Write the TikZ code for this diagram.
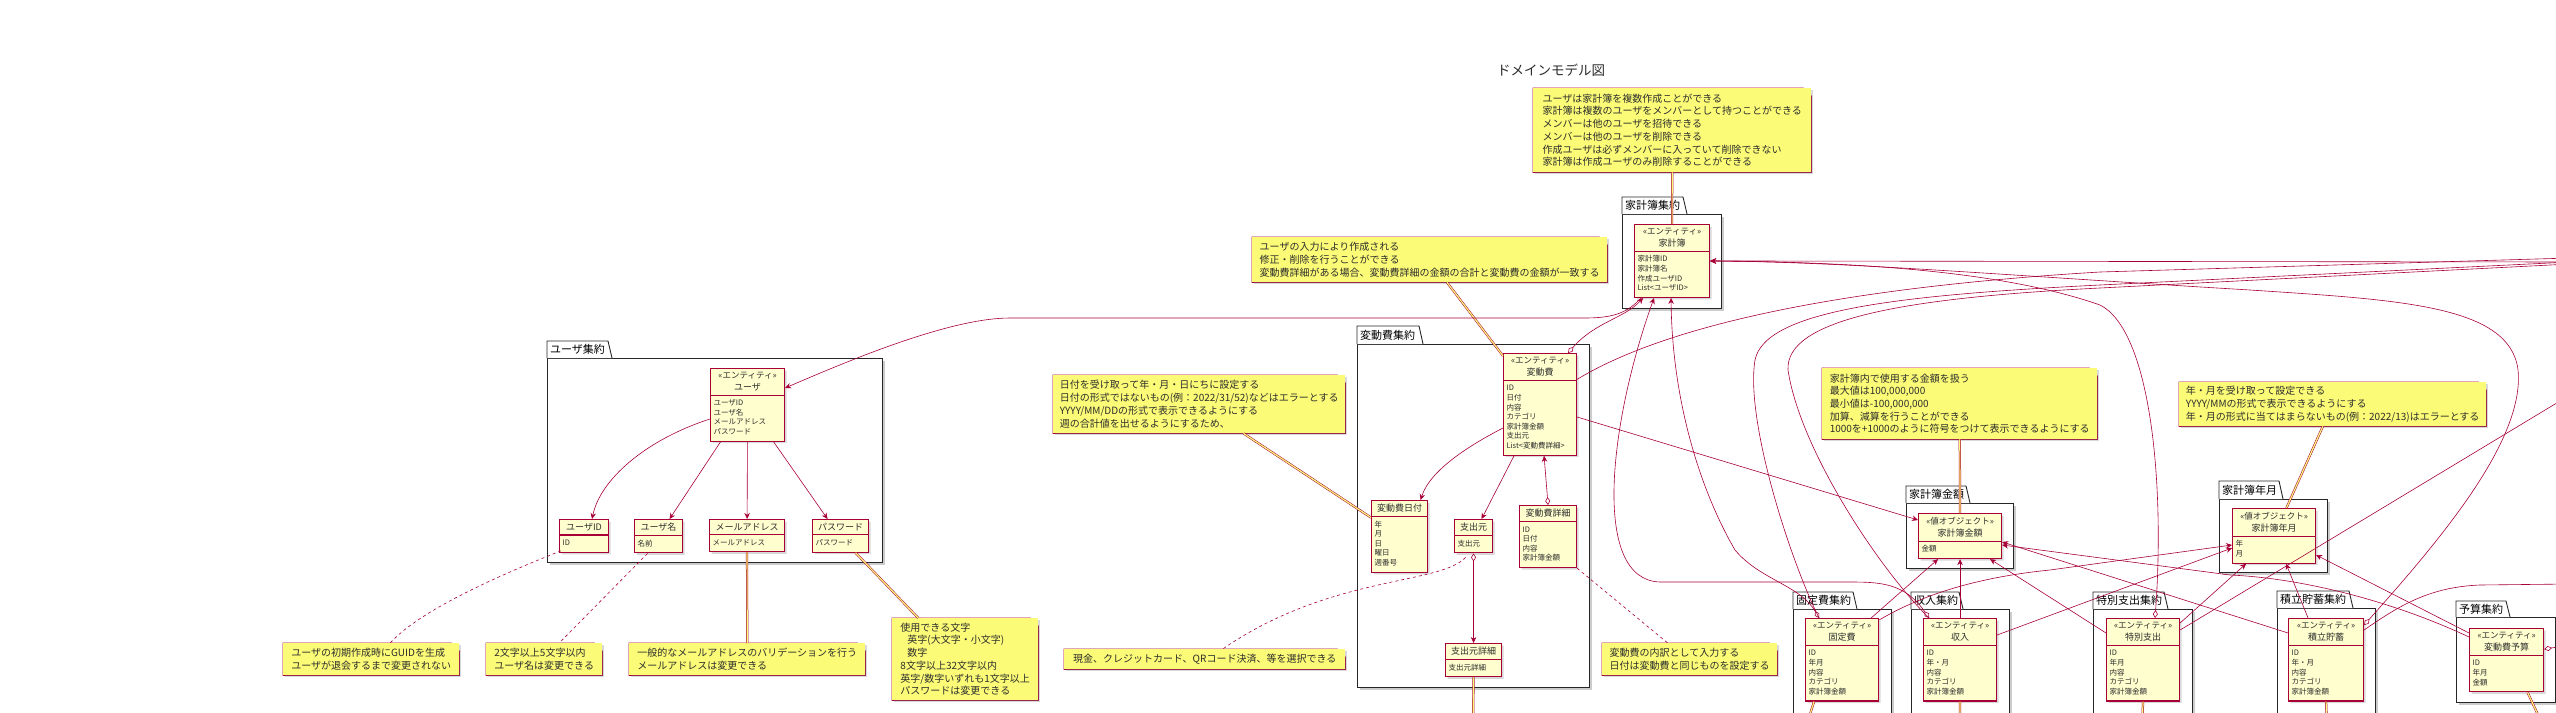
\documentclass[tikz,border=0pt]{standalone}
\usepackage{fontspec}
\setmainfont{Noto Sans CJK JP}
\usetikzlibrary{positioning, shapes.multipart, arrows.meta, shadows}
\definecolor{umlred}{RGB}{168,0,54}
\definecolor{entbg}{RGB}{254,254,206}
\definecolor{notebg}{RGB}{251,251,119}
\definecolor{inktext}{RGB}{45,45,45}
\newcommand{\entstereo}[1]{{\fontsize{8.5}{12}\selectfont «#1»}}
\newcommand{\fieldlist}[1]{{\fontsize{7.5}{9.6}\selectfont\begin{tabular}{@{}l@{}}#1\end{tabular}}}
\tikzstyle{ent}     = [rectangle split, rectangle split parts=2,
                       rectangle split part align={center,left},
                       draw=umlred, fill=entbg, line width=1.1pt, align=center,
                       anchor=north west, inner xsep=3pt, inner ysep=3.3pt,
                       text=inktext, font=\fontsize{9}{12}\selectfont,
                       drop shadow={shadow xshift=2pt, shadow yshift=-2pt, opacity=0.3}]
\tikzstyle{notebox} = [rectangle, fill=notebg, anchor=north west, align=left,
                       inner xsep=6pt, inner ysep=3pt, text=inktext,
                       font=\fontsize{10}{12.7}\selectfont,
                       drop shadow={shadow xshift=2pt, shadow yshift=-2pt, opacity=0.3},
                       append after command={\pgfextra{
                         \fill[white] ([xshift=-8pt]\tikzlastnode.north east) -- (\tikzlastnode.north east)
                           -- ([yshift=-8pt]\tikzlastnode.north east) -- cycle;
                         \draw[umlred, line width=0.8pt] (\tikzlastnode.north west)
                           -- ([xshift=-8pt]\tikzlastnode.north east) -- ([yshift=-8pt]\tikzlastnode.north east)
                           -- (\tikzlastnode.south east) -- (\tikzlastnode.south west) -- cycle;
                         \draw[umlred, line width=0.8pt] ([xshift=-8pt]\tikzlastnode.north east)
                           |- ([yshift=-8pt]\tikzlastnode.north east);}}]
\tikzstyle{pkg}     = [draw=black!85, line width=0.9pt, fill=white]
\tikzstyle{assoc}   = [draw=umlred, -{Stealth[length=6pt,width=5.5pt]}, line width=0.6pt]

\begin{document}
\begin{tikzpicture}[x=1pt, y=-1pt,
  aggr/.style={draw=umlred, {Diamond[fill=white,length=8pt,width=5pt]}-{Stealth[length=6pt,width=5.5pt]}, line width=0.6pt},
  conn/.style={draw=umlred, line width=0.6pt},
  notelink/.style={draw=umlred, line width=0.5pt, double=notebg, double distance=1.2pt},
  notedash/.style={draw=umlred, line width=0.6pt, dash pattern=on 3pt off 3pt},
  pkgname/.style={anchor=west, inner sep=1pt, font=\fontsize{11}{13}\selectfont},
  pkgshade/.style={drop shadow={shadow xshift=3pt, shadow yshift=-3pt, opacity=0.4}}
]
\fill[white] (0,0) rectangle (2556,712);
\useasboundingbox (0,0) rectangle (2556,712);

\node[font=\fontsize{13.5}{16}\selectfont, text=inktext] (title) at (1551,70) {ドメインモデル図};

% packages
\draw[pkg, pkgshade] (547,358) rectangle (882,562);
\draw[pkg] (547,358) |- (608,341) -- (612,358);
\node[pkgname] (pkgUser) at (549,349.5) {ユーザ集約};
\draw[pkg, pkgshade] (1622,214) rectangle (1721,308);
\draw[pkg] (1622,214) |- (1683,197) -- (1687,214);
\node[pkgname] (pkgKakeibo) at (1624,205.5) {家計簿集約};
\draw[pkg, pkgshade] (1357,344) rectangle (1589,687);
\draw[pkg] (1357,344) |- (1419,326) -- (1423,344);
\node[pkgname] (pkgHendo) at (1359,335) {変動費集約};
\draw[pkg, pkgshade] (1906,503) rectangle (2013,568);
\draw[pkg] (1906,503) |- (1966,486) -- (1970,503);
\node[pkgname] (pkgAmount) at (1908,494.5) {家計簿金額};
\draw[pkg, pkgshade] (2219,499) rectangle (2327,572);
\draw[pkg] (2219,499) |- (2279,481) -- (2283,499);
\node[pkgname] (pkgYm) at (2221,490) {家計簿年月};
\draw[pkg, pkgshade] (1793,609) rectangle (1891,730);
\draw[pkg] (1793,609) |- (1853,592) -- (1857,609);
\node[pkgname] (pkgFixed) at (1795,600.5) {固定費集約};
\draw[pkg, pkgshade] (1911,609) rectangle (2009,730);
\draw[pkg] (1911,609) |- (1959,592) -- (1963,609);
\node[pkgname] (pkgIncome) at (1913,600.5) {収入集約};
\draw[pkg, pkgshade] (2093,609) rectangle (2192,730);
\draw[pkg] (2093,609) |- (2164,592) -- (2168,609);
\node[pkgname] (pkgSpecial) at (2095,600.5) {特別支出集約};
\draw[pkg, pkgshade] (2277,608) rectangle (2375,730);
\draw[pkg] (2277,608) |- (2349,591) -- (2353,608);
\node[pkgname] (pkgSaving) at (2279,599.5) {積立貯蓄集約};
\draw[pkg, pkgshade] (2456,617) rectangle (2555,702);
\draw[pkg] (2456,617) |- (2506,601) -- (2510,617);
\node[pkgname] (pkgBudget) at (2458,609) {予算集約};

% entities
\node[ent, minimum width=75pt] (kakeibo) at (1634,224)
  {\entstereo{エンティティ}\\家計簿\nodepart{two}\fieldlist{家計簿ID\\家計簿名\\作成ユーザID\\List<ユーザID>}};
\node[ent, minimum width=74pt] (user) at (710,368)
  {\entstereo{エンティティ}\\ユーザ\nodepart{two}\fieldlist{ユーザID\\ユーザ名\\メールアドレス\\パスワード}};
\node[ent, minimum width=49pt] (userid) at (559,519) {ユーザID\nodepart{two}\fieldlist{ID}};
\node[ent, minimum width=48pt] (username) at (634,519) {ユーザ名\nodepart{two}\fieldlist{名前}};
\node[ent, minimum width=75pt] (mail) at (709,519) {メールアドレス\nodepart{two}\fieldlist{メールアドレス}};
\node[ent, minimum width=56pt] (pass) at (812,519) {パスワード\nodepart{two}\fieldlist{パスワード}};
\node[ent, minimum width=73pt] (hendo) at (1503,353)
  {\entstereo{エンティティ}\\変動費\nodepart{two}\fieldlist{ID\\日付\\内容\\カテゴリ\\家計簿金額\\支出元\\List<変動費詳細>}};
\node[ent, minimum width=56pt] (hdate) at (1371,500) {変動費日付\nodepart{two}\fieldlist{年\\月\\日\\曜日\\週番号}};
\node[ent, minimum width=38pt] (src) at (1454,519) {支出元\nodepart{two}\fieldlist{支出元}};
\node[ent, minimum width=57pt] (hdetail) at (1519,505) {変動費詳細\nodepart{two}\fieldlist{ID\\日付\\内容\\家計簿金額}};
\node[ent, minimum width=56pt] (srcdetail) at (1445,643) {支出元詳細\nodepart{two}\fieldlist{支出元詳細}};
\node[ent, minimum width=83pt] (amount) at (1918,513)
  {\entstereo{値オブジェクト}\\家計簿金額\nodepart{two}\fieldlist{金額}};
\node[ent, minimum width=83pt] (ym) at (2232,508)
  {\entstereo{値オブジェクト}\\家計簿年月\nodepart{two}\fieldlist{年\\月}};
\node[ent, minimum width=73pt] (fixed) at (1805,618)
  {\entstereo{エンティティ}\\固定費\nodepart{two}\fieldlist{ID\\年月\\内容\\カテゴリ\\家計簿金額}};
\node[ent, minimum width=73pt] (income) at (1923,618)
  {\entstereo{エンティティ}\\収入\nodepart{two}\fieldlist{ID\\年・月\\内容\\カテゴリ\\家計簿金額}};
\node[ent, minimum width=73pt] (special) at (2106,618)
  {\entstereo{エンティティ}\\特別支出\nodepart{two}\fieldlist{ID\\年月\\内容\\カテゴリ\\家計簿金額}};
\node[ent, minimum width=75pt] (saving) at (2288,618)
  {\entstereo{エンティティ}\\積立貯蓄\nodepart{two}\fieldlist{ID\\年・月\\内容\\カテゴリ\\家計簿金額}};
\node[ent, minimum width=74pt] (budget) at (2469,628)
  {\entstereo{エンティティ}\\変動費予算\nodepart{two}\fieldlist{ID\\年月\\金額}};

% notes
\node[notebox, minimum width=278pt, minimum height=84pt] (kakeiboNote) at (1533,88)
  {ユーザは家計簿を複数作成ことができる\\家計簿は複数のユーザをメンバーとして持つことができる\\メンバーは他のユーザを招待できる\\メンバーは他のユーザを削除できる\\作成ユーザは必ずメンバーに入っていて削除できない\\家計簿は作成ユーザのみ削除することができる};
\node[notebox, minimum width=355pt, minimum height=45pt] (hendoNote) at (1252,237)
  {ユーザの入力により作成される\\修正・削除を行うことができる\\変動費詳細がある場合、変動費詳細の金額の合計と変動費の金額が一致する};
\node[notebox, minimum width=292pt, minimum height=58pt] (dateNote) at (1053,375)
  {日付を受け取って年・月・日にちに設定する\\日付の形式ではないもの(例：2022/31/52)などはエラーとする\\YYYY/MM/DDの形式で表示できるようにする\\週の合計値を出せるようにするため、};
\node[notebox, minimum width=281pt, minimum height=20pt] (srcNote) at (1064,649)
  {現金、クレジットカード、QRコード決済、等を選択できる};
\node[notebox, minimum width=175pt, minimum height=32pt] (detailNote) at (1602,643)
  {変動費の内訳として入力する\\日付は変動費と同じものを設定する};
\node[notebox, minimum width=176pt, minimum height=32pt] (useridNote) at (283,643)
  {ユーザの初期作成時にGUIDを生成\\ユーザが退会するまで変更されない};
\node[notebox, minimum width=116pt, minimum height=32pt] (usernameNote) at (486,643)
  {2文字以上5文字以内\\ユーザ名は変更できる};
\node[notebox, minimum width=236pt, minimum height=32pt] (mailNote) at (629,643)
  {一般的なメールアドレスのバリデーションを行う\\メールアドレスは変更できる};
\node[notebox, minimum width=146pt, minimum height=82pt] (passNote) at (892,618)
  {使用できる文字\\\hspace*{7pt}英字(大文字・小文字)\\\hspace*{7pt}数字\\8文字以上32文字以内\\英字/数字いずれも1文字以上\\パスワードは変更できる};
\node[notebox, minimum width=275pt, minimum height=71pt] (amountNote) at (1822,368)
  {家計簿内で使用する金額を扱う\\最大値は100,000,000\\最小値は-100,000,000\\加算、減算を行うことができる\\1000を+1000のように符号をつけて表示できるようにする};
\node[notebox, minimum width=307pt, minimum height=44pt] (ymNote) at (2179,382)
  {年・月を受け取って設定できる\\YYYY/MMの形式で表示できるようにする\\年・月の形式に当てはまらないもの(例：2022/13)はエラーとする};

% free ends outside the page
\coordinate (srcdetailOut) at (1473,730);
\coordinate (fixedOutB) at (1805,730);
\coordinate (incomeOutB) at (1960,730);
\coordinate (specialOutB) at (2142,730);
\coordinate (savingOutB) at (2327,730);
\coordinate (budgetOutB) at (2545,730);
\coordinate (kakeiboOutR) at (2570,262);
\coordinate (hendoOutR) at (2570,258);
\coordinate (fixedOutR) at (2570,262);
\coordinate (incomeOutR) at (2570,264);
\coordinate (specialOutR) at (2570,395);
\coordinate (savingOutR) at (2570,584);
\coordinate (budgetOutR) at (2570,645);

% ユーザ集約
\draw[assoc] ([yshift=-51pt]user.north west) .. controls (645,440) and (600,480) .. ([xshift=8pt]userid.north);
\draw[assoc] ([xshift=-27pt]user.south) -- ([xshift=11pt]username.north);
\draw[assoc] (user) -- (mail);
\draw[assoc] ([xshift=26pt]user.south) -- ([xshift=-13pt]pass.north);
\draw[notedash] ([xshift=2pt,yshift=2pt]userid.south west) .. controls (500,575) and (420,610) .. ([xshift=19pt]useridNote.north);
\draw[notedash] ([xshift=-11pt]username.south) -- ([xshift=15pt]usernameNote.north);
\draw[notelink] (mail) -- (mailNote);
\draw[notelink] ([xshift=15pt]pass.south) -- ([xshift=-47pt]passNote.north);

% 変動費集約
\draw[assoc] ([yshift=-75pt]hendo.north west) .. controls (1470,445) and (1430,470) .. ([xshift=21pt]hdate.north);
\draw[assoc] ([xshift=-26pt]hendo.south) -- ([xshift=8pt]src.north);
\draw[aggr] (hdetail.north) -- ([xshift=4pt]hendo.south);
\draw[aggr] (src.south) -- (srcdetail.north);
\draw[notelink] (hendoNote) -- (hendo);
\draw[notelink] (dateNote) -- (hdate);
\draw[notedash] ([xshift=-8pt,yshift=-4pt]src.south) .. controls (1440,585) and (1330,575) .. ([xshift=18pt]srcNote.north);
\draw[notedash] (hdetail.south east) -- ([xshift=-22pt]detailNote.north);
\draw[notelink] (srcdetail.south) -- (srcdetailOut);

% 家計簿
\draw[notelink] (kakeiboNote) -- (kakeibo);
\draw[aggr] ([xshift=28pt]hendo.north) .. controls (1595,322) and (1625,318) .. ([xshift=-29pt]kakeibo.south);
\draw[assoc] ([xshift=-31pt]kakeibo.south) .. controls (1628,312) and (1615,318) .. (1585,318)
  -- (1010,318) .. controls (950,318) and (850,360) .. ([yshift=-20pt]user.north east);
\draw[aggr] ([xshift=-31pt]income.north) .. controls (1905,583) and (1880,582) .. (1850,582)
  -- (1660,582) .. controls (1590,580) and (1610,420) .. ([xshift=-18pt]kakeibo.south);
\draw[aggr] ([xshift=-23pt]fixed.north) .. controls (1800,585) and (1760,580) .. (1735,550)
  .. controls (1700,490) and (1672,400) .. ([xshift=-1pt]kakeibo.south);
\draw[assoc] (kakeiboOutR) -- (kakeibo.east);
\draw[aggr] ([xshift=12pt]special.north) .. controls (2165,480) and (2150,330) .. (2100,305)
  .. controls (2000,270) and (1850,262) .. (kakeibo.east);
\draw[aggr] ([yshift=-7pt]saving.north east) .. controls (2440,540) and (2525,440) .. (2518,370)
  .. controls (2510,305) and (2400,300) .. (2250,290) .. controls (2000,275) and (1850,262) .. (kakeibo.east);

% lines leaving the page
\draw[conn] ([yshift=25pt]hendo.east) .. controls (1650,335) and (1800,290) .. (2100,272) -- (hendoOutR);
\draw[conn] ([xshift=-23pt]fixed.north) .. controls (1790,560) and (1745,420) .. (1755,360)
  .. controls (1765,310) and (1900,295) .. (2100,285) -- (fixedOutR);
\draw[conn] ([xshift=-31pt]income.north) .. controls (1880,570) and (1800,450) .. (1788,370)
  .. controls (1785,320) and (1900,298) .. (2100,288) -- (incomeOutR);
\draw[conn] ([yshift=-12pt]special.north east) -- (specialOutR);
\draw[conn] ([yshift=-12pt]saving.north east) .. controls (2400,605) and (2430,587) .. (2480,585) -- (savingOutR);
\draw[conn, {Diamond[fill=white,length=8pt,width=5pt]}-] ([yshift=11pt]budget.east) -- (budgetOutR);
\draw[notelink] ([xshift=-28pt]fixed.south) -- (fixedOutB);
\draw[notelink] (income.south) -- (incomeOutB);
\draw[notelink] (special.south) -- (specialOutB);
\draw[notelink] (saving.south) -- (savingOutB);
\draw[notelink] ([xshift=21pt]budget.south) -- (budgetOutB);

% 家計簿金額
\draw[notelink] (amountNote) -- (amount);
\draw[assoc] ([yshift=-64pt]hendo.north east) -- ([yshift=-7pt]amount.north west);
\draw[assoc] ([xshift=-8pt]fixed.north east) -- ([xshift=-22pt]amount.south);
\draw[assoc] (income) -- (amount);
\draw[assoc] ([yshift=-15pt]special.north west) -- ([xshift=30pt]amount.south);
\draw[assoc] ([yshift=-15pt]saving.north west) -- ([yshift=-29pt]amount.north east);
\draw[assoc] ([yshift=-9pt]budget.north west) .. controls (2390,600) and (2300,578) .. (2230,575)
  -- ([yshift=-32pt]amount.north east);

% 家計簿年月
\draw[notelink] (ymNote) -- (ym);
\draw[assoc] ([yshift=-2pt]fixed.north east) .. controls (1930,590) and (1990,576) .. (2050,570)
  -- ([yshift=-37pt]ym.north west);
\draw[assoc] ([yshift=-17pt]income.north east) -- ([yshift=-40pt]ym.north west);
\draw[assoc] ([yshift=-5pt]special.north east) -- ([xshift=-28pt]ym.south);
\draw[assoc] ([xshift=-18pt]saving.north) -- ([xshift=12pt]ym.south);
\draw[assoc] ([yshift=-5pt]budget.north west) -- ([yshift=-47pt]ym.north east);
\end{tikzpicture}
\end{document}
